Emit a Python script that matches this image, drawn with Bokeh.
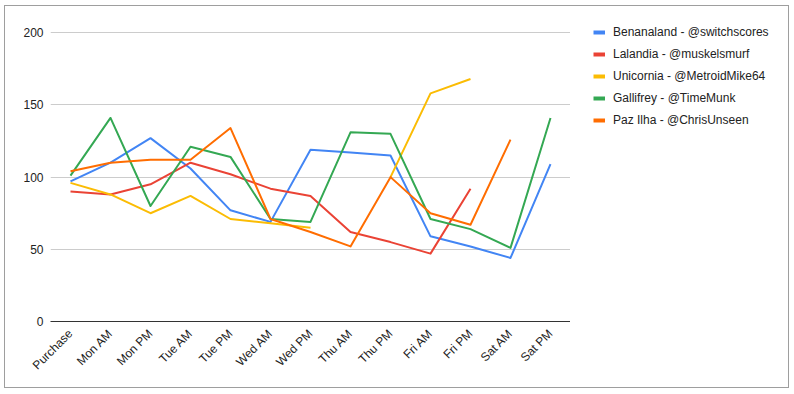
import math
from bokeh.plotting import figure
from bokeh.layouts import row
from bokeh.models import FactorRange, Range1d, Legend, LegendItem, FixedTicker
from bokeh.embed import file_html
from bokeh.resources import INLINE

nan = float("nan")

categories = ["Purchase", "Mon AM", "Mon PM", "Tue AM", "Tue PM", "Wed AM", "Wed PM",
              "Thu AM", "Thu PM", "Fri AM", "Fri PM", "Sat AM", "Sat PM"]

benanaland = [97, 110, 127, 106, 77, 69, 119, 117, 115, 59, 52, 44, 109]
lalandia = [90, 88, 95, 110, 102, 92, 87, 62, 55, 47, 92, nan, nan]
unicornia = [96, 88, 75, 87, 71, 68, 65, nan, 100, 158, 168, nan, nan]
gallifrey = [101, 141, 80, 121, 114, 71, 69, 131, 130, 71, 64, 51, 141]
paz_ilha = [104, 110, 112, 112, 134, 71, 62, 52, 100, 75, 67, 126, nan]

series_names = ["Benanaland - @switchscores", "Lalandia - @muskelsmurf",
                "Unicornia - @MetroidMike64", "Gallifrey - @TimeMunk",
                "Paz Ilha - @ChrisUnseen"]
series_values = [benanaland, lalandia, unicornia, gallifrey, paz_ilha]
series_colors = ["#4285F4", "#EA4335", "#FBBC04", "#34A853", "#FF6D01"]

y_ticks = [0, 50, 100, 150, 200]

FONT = "Liberation Sans"

# main chart
p = figure(x_range=FactorRange(*categories), y_range=Range1d(0, 207.1),
           width=565, height=381, output_backend="svg", toolbar_location=None,
           min_border_left=45, min_border_right=0, min_border_top=16,
           min_border_bottom=66)
p.outline_line_color = None
p.background_fill_color = "white"
p.border_fill_color = "white"

p.xgrid.grid_line_color = None
p.ygrid.grid_line_color = "#cccccc"
p.ygrid.grid_line_width = 1

p.yaxis.ticker = FixedTicker(ticks=y_ticks)
p.yaxis.axis_line_color = None
p.yaxis.major_tick_line_color = None
p.yaxis.minor_tick_line_color = None
p.yaxis.major_tick_out = 0
p.yaxis.major_label_standoff = 7
p.yaxis.major_label_text_font = FONT
p.yaxis.major_label_text_font_size = "12px"
p.yaxis.major_label_text_color = "#222222"

p.xaxis.axis_line_color = "#333333"
p.xaxis.axis_line_width = 1
p.xaxis.major_tick_line_color = None
p.xaxis.major_tick_out = 0
p.xaxis.major_label_orientation = math.pi / 4
p.xaxis.major_label_standoff = 10
p.xaxis.major_label_text_font = FONT
p.xaxis.major_label_text_font_size = "12px"
p.xaxis.major_label_text_color = "#222222"

for name, vals, color in zip(series_names, series_values, series_colors):
    p.line(x=categories, y=vals, line_color=color, line_width=2, line_join="round")

# legend panel
q = figure(x_range=FactorRange(*categories), y_range=Range1d(0, 200),
           width=218, height=381, output_backend="svg", toolbar_location=None,
           x_axis_location=None, y_axis_location=None,
           min_border_left=0, min_border_right=0, min_border_top=0,
           min_border_bottom=0)
q.outline_line_color = None
q.grid.visible = False
q.background_fill_color = "white"
q.border_fill_color = "white"

items = []
for name, vals, color in zip(series_names, series_values, series_colors):
    proxy = q.line(x=categories, y=vals, line_color=color, line_width=4, visible=False)
    items.append(LegendItem(label=name, renderers=[proxy]))

legend = Legend(items=items, location=(23, 191), orientation="vertical")
legend.padding = 0
legend.margin = 0
legend.spacing = 2
legend.glyph_width = 12
legend.glyph_height = 20
legend.label_height = 20
legend.label_standoff = 8
legend.label_text_font = FONT
legend.label_text_font_size = "12px"
legend.label_text_color = "#222222"
legend.border_line_color = None
legend.background_fill_alpha = 0
q.add_layout(legend, "center")

layout = row(p, q)
layout.styles = {"border": "1px solid #9e9e9e", "margin-left": "4px", "margin-top": "5px"}

open("out.html", "w").write(file_html(layout, INLINE))
